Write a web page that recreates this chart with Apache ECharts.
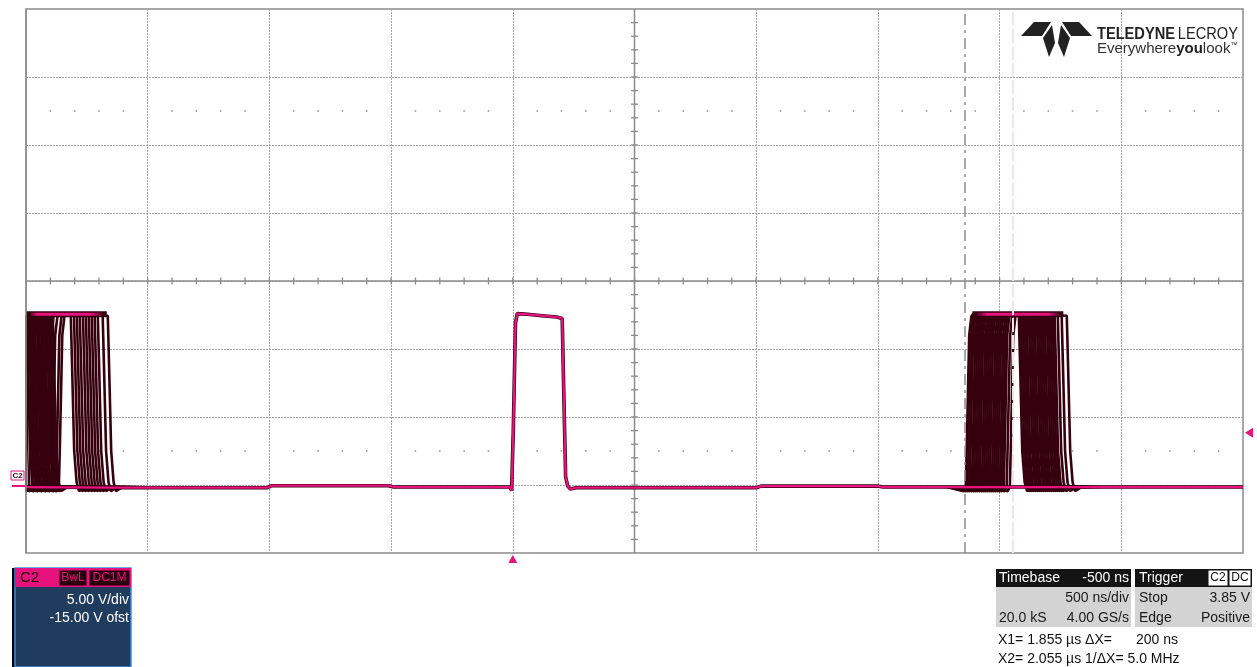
<!DOCTYPE html>
<html><head><meta charset="utf-8">
<script src="https://cdn.jsdelivr.net/npm/echarts@6/dist/echarts.min.js"></script>
<style>html,body{margin:0;padding:0;background:#fff;overflow:hidden}#c{width:1257px;height:667px}</style>
</head><body><div id="c"></div>
<script>
// ---------- axis setup (scope: 500 ns/div, 5 V/div, -15 V offset, -500 ns delay) ----------
const X_MIN = -2000, X_MAX = 3000, X_DIV = 500;   // ns
const Y_MIN = -5, Y_MAX = 35, Y_DIV = 5;           // V
const CENTER_T = 500, CENTER_V = 15;
const CURSOR_X1 = 1855, CURSOR_X2 = 2055;          // ns
const TRIG_LEVEL = 3.85;                            // V

// ---------- main (latest) acquisition ----------
const mainT = [-2000,-1620,-1600,-1010,-990,-510,-490,-12,-5,2,11,18,26,60,120,180,203,208,217,226,237,260,1000,1020,1500,1520,3000];
const mainV = [-0.15,-0.2,-0.2,-0.2,-0.05,-0.05,-0.15,-0.15,-0.4,4,11.9,12.6,12.7,12.55,12.45,12.35,12.25,8,0.6,-0.1,-0.3,-0.2,-0.2,-0.08,-0.08,-0.15,-0.15];

// ---------- edge shapes read from the middle pulse (ns offset, V) ----------
const riseDt = [0, 5, 14, 23, 32];
const riseV  = [-0.1, 3.5, 11.0, 12.4, 12.6];
const fallDt = [0, 5, 14, 24, 34, 60];
const fallV  = [12.45, 9.0, 2.5, 0.2, -0.45, -0.15];
const BASE_V = -0.15, TOP_V = 12.5;

// ---------- persistence (jittered) edges (ns) ----------
const leftFallA = [-1997,-1988,-1980,-1972,-1964,-1955,-1947,-1939,-1931,-1923,-1914,-1906,-1898,-1890];
const leftRiseB = [-2021,-2013,-2001,-1988,-1976,-1960,-1943,-1927,-1910,-1894,-1877,-1865];
const leftFallB = [-1816,-1803,-1791,-1779,-1766,-1754,-1742,-1730,-1718,-1705,-1685,-1664];
const rightRise = [1861,1869,1877,1886,1894,1902,1910,1918,1927,1935,1943,1951,1959,1968,1976,1984,1992,2001,2009,2017,2029,2042];
const rightFall = [2079,2087,2095,2103,2111,2120,2128,2136,2144,2153,2161,2169,2177,2185,2194,2202,2210,2218,2226,2239,2255,2276];

// plateau glow spans (ns) and level (V)
const leftPlateau = [-2000, -1668];
const rightPlateau = [1888, 2262];
const PLATEAU_V = 12.55;

const DARK = '#36000f', PINK = '#e8137f', GRIDC = '#a6a6a6';

function pulseTrace(rise, fall) {
  const pts = [];
  if (rise == null) pts.push([X_MIN, TOP_V]);
  else {
    pts.push([rise - 80, BASE_V]);
    pts.push([rise - 8, -0.45]);
    for (let i = 0; i < riseDt.length; i++) pts.push([rise + riseDt[i], riseV[i]]);
  }
  for (let i = 0; i < fallDt.length; i++) pts.push([fall + fallDt[i], fallV[i]]);
  pts.push([fall + 140, BASE_V]);
  return pts;
}

const series = [];
function darkLine(pts) {
  series.push({type:'line', data: pts, showSymbol:false, silent:true, z:2, animation:false,
    lineStyle:{color: DARK, width: 2.6}});
}
leftFallA.forEach(f => darkLine(pulseTrace(null, f)));
leftFallB.forEach((f, i) => darkLine(pulseTrace(leftRiseB[i], f)));
rightFall.forEach((f, i) => darkLine(pulseTrace(rightRise[i], f)));

function grad(a, b) {
  return new echarts.graphic.LinearGradient(0, 0, 1, 0, [
    {offset:0, color:DARK},{offset:a, color:PINK},{offset:b, color:PINK},{offset:1, color:DARK}]);
}
[[leftPlateau, 0.12, 0.82], [rightPlateau, 0.15, 0.85]].forEach(([p, a, b]) => {
  series.push({type:'line', data:[[p[0], PLATEAU_V],[p[1], PLATEAU_V]], showSymbol:false, silent:true, z:3,
    lineStyle:{color:DARK, width:6}});
  series.push({type:'line', data:[[p[0]+20, PLATEAU_V],[p[1]-20, PLATEAU_V]], showSymbol:false, silent:true, z:4,
    lineStyle:{color:grad(a, b), width:3}});
});

const mainPts = mainT.map((t, i) => [t, mainV[i]]);
series.push({type:'line', data: mainPts, showSymbol:false, silent:true, z:5, lineStyle:{color:DARK, width:3.6}});
series.push({type:'line', data: mainPts, showSymbol:false, silent:true, z:6, lineStyle:{color:PINK, width:2.2}});

// graticule dots (every 1/5 div along the rows 2.5 div above / below centre)
const dots = [];
[CENTER_V + 2.5 * Y_DIV, CENTER_V - 2.5 * Y_DIV].forEach(v => {
  for (let t = X_MIN + X_DIV / 5; t < X_MAX; t += X_DIV / 5) {
    if (Math.abs(t / X_DIV - Math.round(t / X_DIV)) > 1e-6) dots.push([t, v]);
  }
});
series.push({type:'scatter', data: dots, symbolSize: 1.8, silent:true, z:1, itemStyle:{color:'#8a8a8a'}});

// cursors
series.push({type:'line', data:[], z:10, silent:true,
  markLine:{silent:true, symbol:['none','none'], label:{show:false}, animation:false,
    data:[
      {xAxis: CURSOR_X1, lineStyle:{color:'#8c8c8c', width:1.5, type:[11,5,3,5]}},
      {xAxis: CURSOR_X2, lineStyle:{color:'#f3e4ec', width:2, type:[14,3]}}
    ]}});

const axisCommon = {axisLine:{show:false}, axisTick:{show:false}, axisLabel:{show:false},
  splitLine:{show:true, showMinLine:false, showMaxLine:false, lineStyle:{color:GRIDC, type:[2,1], width:1}}};

const chart = echarts.init(document.getElementById('c'), null, {renderer:'canvas', width:1257, height:667});
chart.setOption({
  animation:false,
  backgroundColor:'#ffffff',
  grid:{left:26, top:9, width:1217, height:544, show:true, borderColor:'#8c8c8c', borderWidth:1.5, backgroundColor:'transparent'},
  xAxis: Object.assign({type:'value', min:X_MIN, max:X_MAX, interval:X_DIV}, axisCommon),
  yAxis: Object.assign({type:'value', min:Y_MIN, max:Y_MAX, interval:Y_DIV}, axisCommon),
  series: series
});

// ---------- overlay graphics (centre cross, markers, panels, logo) ----------
const px = (t, v) => chart.convertToPixel({gridIndex:0}, [t, v]);
const g = [];
const [cx, cy] = px(CENTER_T, CENTER_V);
const [lx, ty] = px(X_MIN, Y_MAX);
const [rx, by] = px(X_MAX, Y_MIN);
const CROSS = '#8c8c8c';
// mask trace overflow outside the left border
g.push({type:'rect', shape:{x:0, y:ty, width:lx - 0.8, height:by - ty}, style:{fill:'#ffffff'}, z:15});
g.push({type:'line', shape:{x1:lx, y1:ty, x2:lx, y2:by}, style:{stroke:CROSS, lineWidth:1.5}, z:16});
g.push({type:'line', shape:{x1:cx, y1:ty, x2:cx, y2:by}, style:{stroke:CROSS, lineWidth:1.5}, z:1});
g.push({type:'line', shape:{x1:lx, y1:cy, x2:rx, y2:cy}, style:{stroke:CROSS, lineWidth:1.5}, z:1});
for (let v = Y_MIN + 1; v < Y_MAX; v += 1) {
  const y = px(CENTER_T, v)[1];
  g.push({type:'line', shape:{x1:cx-3.5, y1:y, x2:cx+3.5, y2:y}, style:{stroke:CROSS, lineWidth:1.3}, z:1});
}
for (let t = X_MIN + 100; t < X_MAX; t += 100) {
  const x = px(t, CENTER_V)[0];
  g.push({type:'line', shape:{x1:x, y1:cy-3.5, x2:x, y2:cy+3.5}, style:{stroke:CROSS, lineWidth:1.3}, z:1});
}
// trigger time marker
const tx = px(0, Y_MIN)[0];
g.push({type:'polygon', shape:{points:[[tx-4.5, by+10],[tx+4.5, by+10],[tx, by+2]]}, style:{fill:PINK}, z:20});
// trigger level marker
const tly = px(X_MAX, TRIG_LEVEL)[1];
g.push({type:'polygon', shape:{points:[[rx+2, tly],[rx+10, tly-5],[rx+10, tly+5]]}, style:{fill:PINK}, z:20});
// channel ground marker
const gy = px(X_MIN, 0)[1];
g.push({type:'rect', shape:{x:11, y:gy-14, width:13, height:9}, style:{fill:'#fff', stroke:PINK, lineWidth:1}, z:20});
g.push({type:'text', style:{text:'C2', x:17.5, y:gy-9.5, fill:'#3a0016', font:'bold 8px "Liberation Sans"', textAlign:'center', align:'center', textVerticalAlign:'middle', verticalAlign:'middle'}, z:21});
g.push({type:'line', shape:{x1:12, y1:gy+1, x2:25, y2:gy+1}, style:{stroke:PINK, lineWidth:2}, z:20});

function txt(s, x, y, opt) {
  opt = opt || {};
  g.push({type:'text', z: 31, style:{text:s, x:x, y:y, fill: opt.fill || '#111',
    font: (opt.bold ? 'bold ' : '') + (opt.size || 14) + 'px ' + (opt.family || '"Liberation Sans", Arial, sans-serif'),
    textAlign: opt.align || 'left', align: opt.align || 'left',
    textVerticalAlign:'middle', verticalAlign:'middle'}});
}
function rect(x, y, w, h, fill, stroke, lw) {
  g.push({type:'rect', z:30, shape:{x:x, y:y, width:w, height:h}, style:{fill:fill, stroke:stroke || null, lineWidth: lw || 0}});
}
// C2 channel panel
rect(12, 568, 3, 99, '#000');
rect(15, 568, 116, 99, '#1f3b5e', '#3b8fe0', 1.5);
rect(15, 568, 116, 19, '#e5127d');
txt('C2', 20, 578, {size:15, fill:'#1a0008'});
rect(59, 570, 28, 16, '#2a000f', '#e5127d', 1);
txt('BwL', 73, 578, {size:12, fill:'#e5127d', align:'center'});
rect(89, 570, 41, 16, '#2a000f', '#e5127d', 1);
txt('DC1M', 109.5, 578, {size:12, fill:'#e5127d', align:'center'});
txt('5.00 V/div', 129, 600, {fill:'#ffffff', align:'right'});
txt('-15.00 V ofst', 129, 618, {fill:'#ffffff', align:'right'});
// Timebase panel
rect(996, 569, 135, 18, '#141414');
txt('Timebase', 999, 578, {fill:'#fff'});
txt('-500 ns', 1129, 578, {fill:'#fff', align:'right'});
rect(996, 587, 135, 40, '#d3d3d3');
txt('500 ns/div', 1129, 598, {fill:'#1a1a1a', align:'right'});
txt('20.0 kS', 999, 618, {fill:'#1a1a1a'});
txt('4.00 GS/s', 1129, 618, {fill:'#1a1a1a', align:'right'});
// Trigger panel
rect(1135, 569, 117, 18, '#141414');
txt('Trigger', 1139, 578, {fill:'#fff'});
rect(1208, 570, 20, 16, '#fff', '#141414', 1);
txt('C2', 1218, 578, {size:12, fill:'#111', align:'center'});
rect(1229, 570, 22, 16, '#fff', '#141414', 1);
txt('DC', 1240, 578, {size:12, fill:'#111', align:'center'});
rect(1135, 587, 117, 40, '#d3d3d3');
txt('Stop', 1139, 598, {fill:'#1a1a1a'});
txt('3.85 V', 1250, 598, {fill:'#1a1a1a', align:'right'});
txt('Edge', 1139, 618, {fill:'#1a1a1a'});
txt('Positive', 1250, 618, {fill:'#1a1a1a', align:'right'});
// cursor readouts
txt('X1= 1.855 \u00b5s \u0394X=', 998, 640);
txt('200 ns', 1136, 640);
txt('X2= 2.055 \u00b5s 1/\u0394X= 5.0 MHz', 998, 659);

// logo
const LOGO = '#222';
[[[1021,36],[1034,22],[1051,22],[1042,36]],
 [[1043,38],[1052,25],[1055,43],[1049,57]],
 [[1070,38],[1061,25],[1058,43],[1064,57]],
 [[1092,36],[1079,22],[1062,22],[1071,36]]].forEach(p =>
  g.push({type:'polygon', z:30, shape:{points:p}, style:{fill:LOGO}}));
g.push({type:'text', z:31, x:1097, y:34, scaleX:0.86, scaleY:1, originX:0, originY:0,
  style:{x:0, y:0, text:'{a|TELEDYNE} {b|LECROY}', verticalAlign:'middle', textVerticalAlign:'middle',
  rich:{a:{font:'bold 17px "Liberation Sans", Arial, sans-serif', fill:LOGO, color:LOGO},
        b:{font:'17px "Liberation Sans", Arial, sans-serif', fill:LOGO, color:LOGO}}}});
g.push({type:'text', z:31, style:{x:1097, y:49, text:'{a|Everywhere}{b|you}{a|look}{c|\u2122}', verticalAlign:'middle', textVerticalAlign:'middle',
  rich:{a:{font:'15px "Liberation Sans", Arial, sans-serif', fill:'#333', color:'#333'},
        b:{font:'bold 15px "Liberation Sans", Arial, sans-serif', fill:'#222', color:'#222'},
        c:{font:'7px "Liberation Sans", Arial, sans-serif', fill:'#333', color:'#333', verticalAlign:'top'}}}});

chart.setOption({graphic: g});
</script>
</body></html>
